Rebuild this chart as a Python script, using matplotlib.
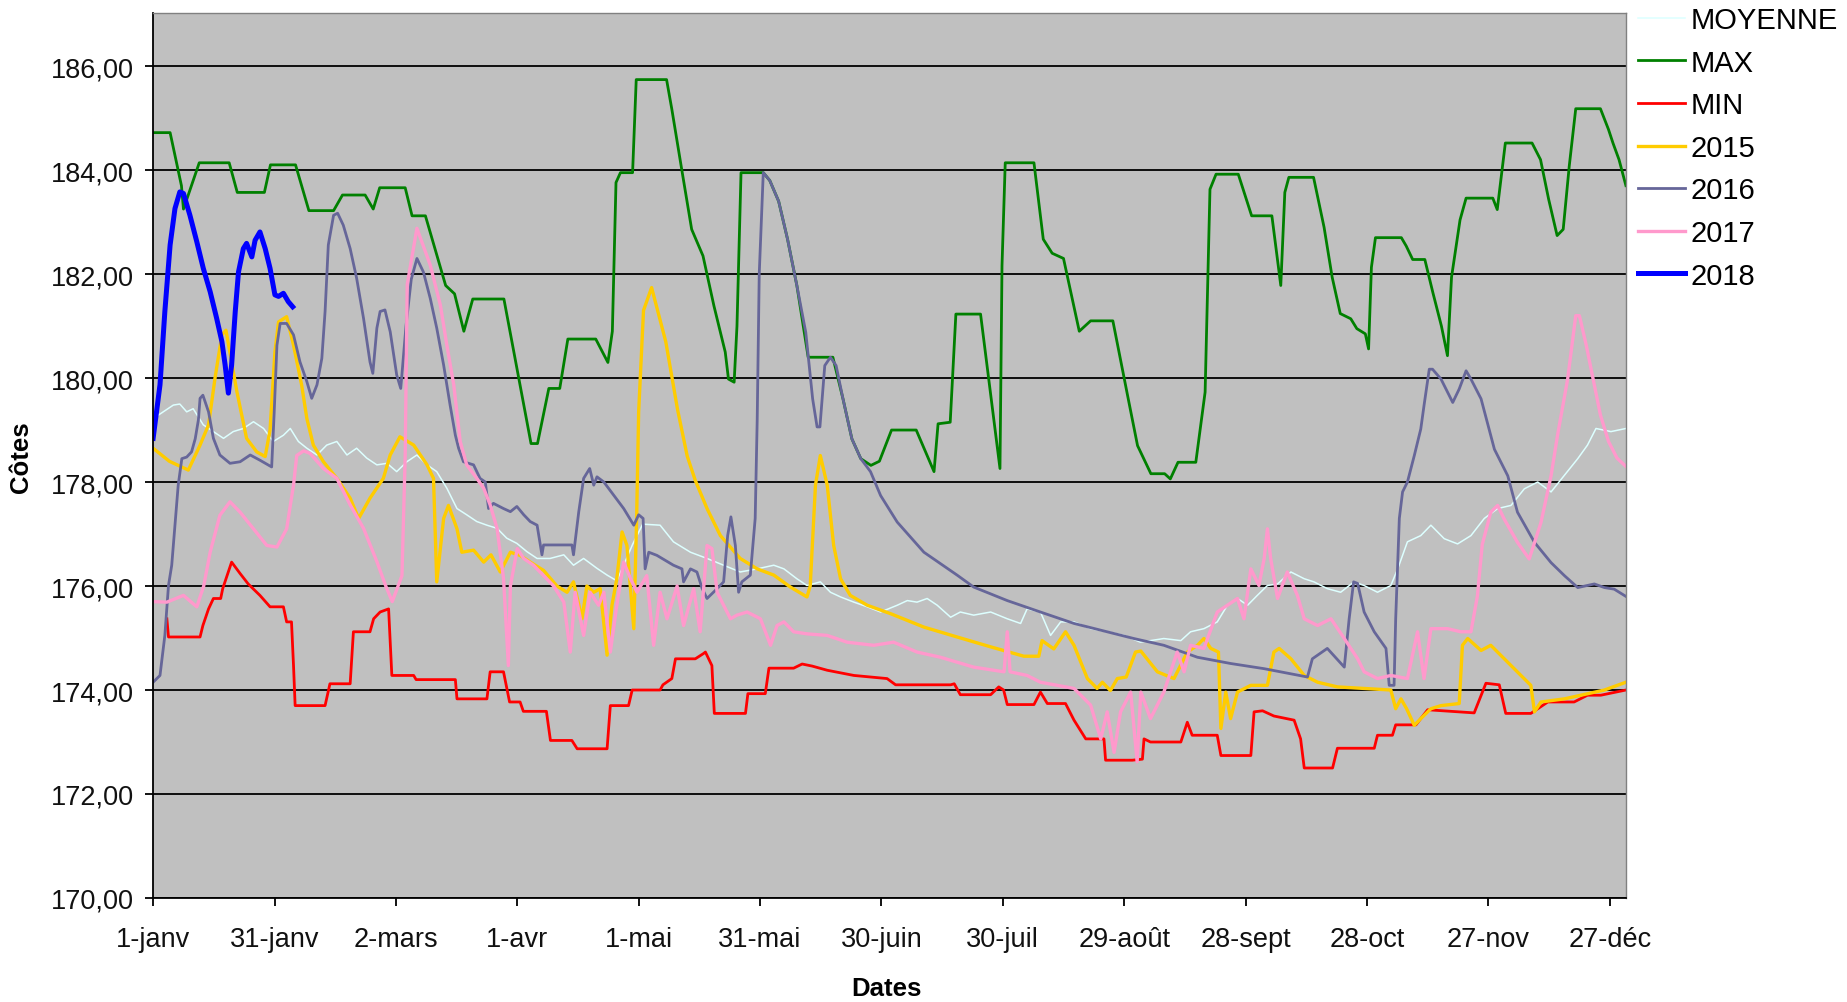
"""Côtes journalières 2015-2018 avec moyenne, max et min (style Excel)"""

import matplotlib
matplotlib.use("Agg")
import matplotlib.pyplot as plt
from matplotlib.ticker import FuncFormatter

plt.rcParams['font.family'] = ['Liberation Sans', 'DejaVu Sans']

# axis ticks: day of year (0 = 1-janv)
tick_days = [0, 30, 60, 90, 120, 150, 180, 210, 240, 270, 300, 330, 360]
tick_labels = ["1-janv", "31-janv", "2-mars", "1-avr", "1-mai", "31-mai", "30-juin",
               "30-juil", "29-août", "28-sept", "28-oct", "27-nov", "27-déc"]
y_ticks = [170, 172, 174, 176, 178, 180, 182, 184, 186]

# series: (day, côte)
moyenne_pts = [
    (0, 179.22), (2.5, 179.35), (5, 179.48), (6.6, 179.5), (8.3, 179.35), (9.9, 179.41),
    (12.4, 179.1), (14.9, 178.97), (17.4, 178.84), (19.8, 178.97), (22.3, 179.03), (24.8, 179.16),
    (27.3, 179.03), (29.7, 178.78), (32.2, 178.9), (33.9, 179.03), (35.9, 178.78), (38, 178.65),
    (40.5, 178.52), (42.9, 178.71), (45.4, 178.78), (47.9, 178.52), (50.3, 178.65), (52.8, 178.46),
    (55.3, 178.33), (57.8, 178.36), (60.2, 178.2), (62.7, 178.39), (65.2, 178.52), (67.7, 178.33),
    (70.1, 178.2), (72.6, 177.88), (75.1, 177.49), (77.5, 177.37), (80, 177.24), (82.5, 177.17),
    (85, 177.11), (87.4, 176.92), (89.9, 176.82), (92.4, 176.66), (94.9, 176.53), (98.1, 176.53),
    (101.5, 176.6), (103.9, 176.4), (106.4, 176.53), (109.7, 176.34), (112.2, 176.21), (114.6, 176.1),
    (116.3, 176.4), (118.5, 176.8), (121, 177.19), (125.3, 177.17), (128.6, 176.85), (132.8, 176.65),
    (136.9, 176.53), (141, 176.4), (145.1, 176.27), (149.3, 176.33), (153.4, 176.4), (155.9, 176.33),
    (159.1, 176.14), (161.6, 176.01), (164.9, 176.08), (167.4, 175.88), (169.9, 175.79), (173.2, 175.69),
    (176.5, 175.6), (179.8, 175.5), (183.9, 175.63), (186.4, 175.72), (188.8, 175.69), (191.3, 175.76),
    (193.8, 175.63), (197.1, 175.4), (199.5, 175.5), (202.8, 175.44), (207, 175.5), (211.1, 175.37),
    (214.4, 175.28), (216, 175.56), (219.3, 175.5), (221.8, 175.05), (224.3, 175.31), (227.6, 175.31),
    (231.7, 175.18), (235.8, 175.12), (240, 175.05), (244, 174.92), (249.8, 174.99), (254, 174.95),
    (256.4, 175.12), (259.7, 175.18), (263, 175.31), (265.5, 175.63), (268, 175.76), (270.5, 175.63),
    (272.9, 175.82), (275.4, 176.01), (277.9, 176.04), (281.2, 176.27), (284.5, 176.14), (286.9, 176.08),
    (290.2, 175.95), (293.5, 175.88), (296.8, 176.08), (299.3, 176.01), (302.6, 175.88), (305.9, 176.01),
    (307.6, 176.33), (310, 176.85), (313.3, 176.97), (315.8, 177.17), (319.1, 176.91), (322.4, 176.81),
    (325.7, 176.97), (329, 177.3), (332.3, 177.49), (335.6, 177.55), (338.9, 177.87), (342.2, 178.0),
    (345.5, 177.81), (348.8, 178.13), (352.1, 178.45), (354.5, 178.71), (356.6, 179.03), (360.3, 178.97),
    (364, 179.03),
]

max_pts = [
    (0, 184.72), (4.2, 184.72), (7, 183.7), (7.5, 183.25), (11.4, 184.14), (18.8, 184.14),
    (20.8, 183.57), (27.5, 183.57), (29, 184.1), (35.2, 184.1), (38.5, 183.22), (44.6, 183.22),
    (46.8, 183.52), (52.4, 183.52), (54.4, 183.25), (56, 183.66), (62.3, 183.66), (64, 183.12),
    (67.3, 183.12), (72.3, 181.78), (74.5, 181.62), (76.8, 180.9), (79, 181.52), (86.7, 181.52),
    (93.4, 178.74), (95, 178.74), (97.8, 179.8), (100.5, 179.8), (102.5, 180.75), (109.4, 180.75),
    (112.4, 180.3), (113.5, 180.9), (114.4, 183.76), (115.5, 183.95), (118.5, 183.95), (119.4, 185.74),
    (126.9, 185.74), (128.2, 185.17), (130.5, 184.08), (133.1, 182.86), (135.9, 182.35), (138.6, 181.39),
    (141.4, 180.5), (142.2, 179.98), (143.6, 179.92), (144.3, 181.0), (145.3, 183.95), (150.8, 183.95),
    (152.4, 183.8), (154.6, 183.4), (156.8, 182.67), (159.1, 181.78), (161.9, 180.4), (168, 180.4),
    (170.5, 179.6), (172.7, 178.83), (174.9, 178.45), (177.4, 178.32), (179.5, 178.4), (182.5, 179.0),
    (188.6, 179.0), (193, 178.2), (194, 179.12), (197, 179.15), (198.4, 181.23), (204.5, 181.23),
    (209.3, 178.26), (209.8, 182.16), (210.6, 184.14), (217.7, 184.14), (220, 182.67), (222.2, 182.4),
    (225, 182.3), (228.9, 180.9), (231.7, 181.1), (237.2, 181.1), (241, 179.6), (243.3, 178.7),
    (246.6, 178.16), (250, 178.16), (251.4, 178.06), (253.3, 178.38), (257.7, 178.38), (260, 179.73),
    (261.2, 183.63), (262.7, 183.92), (268.2, 183.92), (271.5, 183.12), (276.5, 183.12), (278.7, 181.78),
    (279.7, 183.57), (280.7, 183.86), (286.8, 183.86), (289.4, 182.9), (291.4, 181.94), (293.4, 181.24),
    (296, 181.14), (297.5, 180.95), (299.6, 180.85), (300.4, 180.56), (301.1, 182.13), (302.1, 182.7),
    (308.5, 182.7), (309.7, 182.54), (311.3, 182.28), (314.3, 182.28), (316.3, 181.64), (318.4, 181.0),
    (319.9, 180.43), (320.9, 181.94), (323, 183.04), (324.5, 183.46), (331.1, 183.46), (332.2, 183.24),
    (334.2, 184.52), (340.8, 184.52), (342.9, 184.2), (344.9, 183.44), (347, 182.74), (348.5, 182.86),
    (350, 184.08), (351.6, 185.18), (357.7, 185.18), (359.7, 184.78), (360.8, 184.52), (362.3, 184.2),
    (364, 183.7),
]

min_pts = [
    (3.4, 175.37), (3.8, 175.02), (11.6, 175.02), (12.3, 175.24), (13.7, 175.56), (14.9, 175.76),
    (16.7, 175.76), (17.2, 175.95), (19.4, 176.46), (21.5, 176.24), (23.5, 176.04), (26.4, 175.82),
    (28.9, 175.6), (32.2, 175.6), (33, 175.31), (34.2, 175.31), (34.7, 174.47), (35.1, 173.7),
    (42.5, 173.7), (43.7, 174.12), (48.7, 174.12), (49.5, 175.12), (53.6, 175.12), (54.5, 175.37),
    (56.1, 175.5), (58.2, 175.56), (59, 174.28), (64.4, 174.28), (65, 174.2), (74.7, 174.2),
    (75.1, 173.83), (82.5, 173.83), (83.3, 174.35), (86.6, 174.35), (88.1, 173.77), (90.7, 173.77),
    (91.5, 173.59), (97.2, 173.59), (98.2, 173.03), (103.5, 173.03), (104.8, 172.87), (112.2, 172.87),
    (113, 173.7), (117.5, 173.7), (118.4, 174.0), (125.3, 174.0), (126, 174.1), (128.2, 174.22),
    (129.1, 174.6), (134, 174.6), (136, 174.7), (136.5, 174.73), (138.1, 174.47), (138.7, 173.55),
    (146.4, 173.55), (147, 173.93), (151.3, 173.93), (152.2, 174.42), (158.3, 174.42), (160.4, 174.5),
    (162.9, 174.46), (166.6, 174.38), (173.2, 174.28), (181.4, 174.22), (183.5, 174.1), (197.1, 174.1),
    (198, 174.12), (199.5, 173.91), (207, 173.91), (209, 174.06), (210.2, 174.0), (211.1, 173.72),
    (217.7, 173.72), (219.3, 173.96), (221, 173.74), (225.5, 173.74), (227.6, 173.42), (230.5, 173.06),
    (235, 173.06), (235.4, 172.65), (242, 172.65), (244.5, 172.67), (244.9, 173.06), (246.5, 173.0),
    (254, 173.0), (255.6, 173.38), (256.8, 173.13), (263, 173.13), (263.9, 172.74), (271.3, 172.74),
    (272.1, 173.58), (274.2, 173.6), (277, 173.5), (282, 173.42), (283.6, 173.06), (284.5, 172.5),
    (291.5, 172.5), (292.7, 172.88), (301.8, 172.88), (302.6, 173.13), (306.3, 173.13), (307.1, 173.33),
    (312.1, 173.33), (315, 173.62), (326.5, 173.56), (329.4, 174.13), (332.7, 174.1), (334.3, 173.55),
    (340.5, 173.55), (344.7, 173.77), (351.2, 173.77), (354.5, 173.9), (357.8, 173.9), (364, 174.0),
]

y2015_pts = [
    (0, 178.65), (4, 178.4), (8.7, 178.23), (11.6, 178.71), (13.7, 179.1), (15.3, 180.0),
    (17, 180.83), (18, 180.92), (20.7, 179.74), (23.1, 178.84), (25.6, 178.58), (27.7, 178.49),
    (28.9, 179.0), (30.1, 180.5), (31, 181.08), (33, 181.18), (34.7, 180.63), (36.7, 179.87),
    (38, 179.22), (39.6, 178.71), (42.1, 178.39), (45.4, 178.07), (48.7, 177.69), (50.8, 177.3),
    (53.6, 177.69), (56.9, 178.07), (58.6, 178.52), (61, 178.87), (64.4, 178.71), (67.7, 178.33),
    (69.3, 178.07), (70.1, 176.08), (71.8, 177.3), (73, 177.55), (75.1, 177.1), (76.3, 176.65),
    (79.2, 176.69), (81.7, 176.46), (83.5, 176.6), (85.8, 176.27), (88.3, 176.65), (90.7, 176.59),
    (93.2, 176.46), (96.5, 176.3), (99.8, 176.0), (102.3, 175.88), (103.9, 176.08), (106, 175.37),
    (107.2, 176.0), (108.9, 175.88), (110.5, 175.95), (112.2, 174.67), (113.4, 175.63), (114.6, 176.14),
    (115.9, 177.04), (117.1, 176.78), (118.8, 175.18), (119.5, 177.3), (120, 179.35), (121.2, 181.3),
    (123.2, 181.74), (126.7, 180.7), (129.6, 179.4), (132, 178.5), (134, 178.03), (136.9, 177.49),
    (140.2, 176.97), (145.1, 176.53), (149.3, 176.33), (153.4, 176.21), (157.5, 175.98), (161.6, 175.79),
    (162.4, 176.0), (163.7, 177.94), (164.9, 178.51), (166.6, 177.94), (168.2, 176.78), (169.9, 176.14),
    (172.3, 175.82), (176.5, 175.63), (182.2, 175.47), (190.5, 175.21), (198.7, 175.02), (207, 174.83),
    (215.2, 174.65), (218.9, 174.65), (219.7, 174.95), (222.6, 174.79), (225.5, 175.12), (227.6, 174.86),
    (230.9, 174.22), (233.3, 174.03), (234.6, 174.15), (236.6, 173.99), (238.3, 174.22), (240.5, 174.25),
    (242.8, 174.73), (244.1, 174.75), (248.2, 174.35), (252.3, 174.22), (255.6, 174.73), (258.1, 174.86),
    (259.7, 174.99), (261.4, 174.8), (263.3, 174.73), (263.9, 173.26), (265.1, 173.96), (266.3, 173.45),
    (268, 173.96), (271.3, 174.09), (275.4, 174.09), (277, 174.73), (278.3, 174.8), (281.2, 174.6),
    (284.5, 174.28), (287.8, 174.15), (292.7, 174.06), (299.3, 174.03), (305.9, 174.0), (307.1, 173.64),
    (308.4, 173.83), (309.8, 173.64), (311.7, 173.32), (313.3, 173.45), (315.8, 173.64), (318.3, 173.7),
    (322.8, 173.74), (323.6, 174.86), (324.9, 174.99), (328.2, 174.76), (330.6, 174.86), (335.6, 174.47),
    (340.5, 174.09), (341.4, 173.58), (343, 173.77), (348.8, 173.83), (352.9, 173.9), (358.7, 174.0),
    (364, 174.15),
]

y2016_pts = [
    (0, 174.15), (1.7, 174.28), (2.9, 175.05), (3.8, 176.01), (4.6, 176.4), (5.4, 177.17),
    (6.2, 177.94), (7.1, 178.45), (8.3, 178.48), (9.5, 178.58), (10.4, 178.83), (11.2, 179.2),
    (11.6, 179.61), (12.3, 179.67), (13.7, 179.35), (14.9, 178.84), (16.5, 178.52), (19, 178.36),
    (21.5, 178.39), (24, 178.52), (26.4, 178.42), (29.3, 178.29), (29.9, 179.3), (30.6, 180.63),
    (31.4, 181.05), (33, 181.05), (34.7, 180.83), (36.3, 180.31), (38, 179.93), (39.2, 179.61),
    (40.5, 179.87), (41.7, 180.38), (42.5, 181.28), (43.3, 182.56), (44.6, 183.13), (45.6, 183.17),
    (47, 182.94), (48.7, 182.49), (50.3, 181.92), (52, 181.15), (53.6, 180.31), (54.3, 180.09),
    (55.3, 180.96), (56.1, 181.28), (57.3, 181.31), (58.6, 180.89), (60.2, 180.06), (61.2, 179.8),
    (62.5, 181.0), (63.8, 181.9), (65.2, 182.3), (66.8, 182.04), (68.5, 181.53), (70.1, 180.96),
    (71.8, 180.25), (73.4, 179.48), (74.7, 178.9), (75.5, 178.65), (76.7, 178.39), (79.2, 178.33),
    (80.8, 178.07), (82.1, 178.0), (82.9, 177.49), (84.1, 177.59), (86.6, 177.49), (88.3, 177.43),
    (89.9, 177.53), (91.6, 177.37), (93.2, 177.24), (94.9, 177.17), (96.1, 176.6), (96.5, 176.79),
    (103.5, 176.79), (103.9, 176.6), (105.2, 177.43), (106.4, 178.07), (107.9, 178.26), (108.9, 177.94),
    (109.7, 178.1), (111.4, 178.0), (113.8, 177.75), (116.3, 177.49), (118.8, 177.17), (120, 177.37),
    (121.1, 177.3), (121.6, 176.33), (122.5, 176.65), (124.5, 176.59), (128.6, 176.4), (130.7, 176.33),
    (131.1, 176.08), (132.8, 176.33), (134.4, 176.27), (135.7, 175.95), (136.9, 175.76), (139.4, 175.95),
    (141, 176.08), (142, 176.97), (142.8, 177.33), (143.9, 176.78), (144.7, 175.88), (145.5, 176.08),
    (147.6, 176.21), (148.8, 177.3), (149.3, 179.2), (149.8, 182.0), (150.8, 183.95), (152.4, 183.8),
    (154.6, 183.4), (156.8, 182.67), (159.1, 181.78), (161.3, 180.88), (163, 179.6), (164.1, 179.06),
    (164.8, 179.06), (166, 180.24), (167.4, 180.4), (168.8, 180.24), (170.5, 179.6), (172.7, 178.83),
    (174.9, 178.45), (177.3, 178.2), (179.8, 177.74), (183.9, 177.23), (190.5, 176.65), (198.7, 176.21),
    (202.8, 175.98), (211.1, 175.72), (219.3, 175.5), (227.6, 175.28), (235.8, 175.12), (242.4, 174.99),
    (249.8, 174.86), (258.1, 174.63), (266.3, 174.51), (274.6, 174.41), (285.3, 174.25), (286.5, 174.6),
    (290.2, 174.8), (294.4, 174.44), (295.6, 175.37), (296.7, 176.08), (297.7, 176.05), (299.3, 175.5),
    (301.8, 175.12), (304.7, 174.8), (305.5, 174.09), (306.7, 174.09), (307.1, 175.37), (308, 177.3),
    (308.8, 177.81), (310, 178.0), (311.7, 178.51), (313.3, 179.02), (314.1, 179.47), (315.4, 180.17),
    (316.2, 180.17), (318.3, 179.98), (321.2, 179.53), (322.8, 179.79), (324.5, 180.14), (325.7, 179.98),
    (328.2, 179.6), (331.5, 178.63), (334.8, 178.12), (337.2, 177.42), (341.4, 176.84), (345.5, 176.45),
    (348.8, 176.2), (352.1, 175.97), (356.2, 176.04), (358.7, 175.97), (361.1, 175.94), (364, 175.8),
]

y2017_pts = [
    (0, 175.7), (3.4, 175.69), (7.5, 175.82), (10.8, 175.6), (12.5, 176.0), (14.1, 176.65),
    (16.5, 177.36), (19, 177.62), (21.5, 177.42), (24.8, 177.1), (28.1, 176.78), (30.6, 176.75),
    (33, 177.1), (34.7, 177.94), (35.5, 178.51), (37.2, 178.6), (38.8, 178.55), (42.1, 178.26),
    (45.4, 178.07), (48.7, 177.56), (52, 177.11), (55.3, 176.47), (57.5, 176.0), (59.1, 175.7),
    (61.5, 176.2), (62.3, 178.5), (62.8, 181.8), (65.2, 182.88), (68.5, 182.17), (71, 181.4),
    (72.6, 180.63), (74.3, 179.87), (75.9, 178.78), (77.5, 178.33), (80, 178.07), (81.7, 177.88),
    (83.3, 177.56), (85, 177.11), (86.6, 176.15), (87.8, 174.47), (88.3, 176.0), (90, 176.72),
    (91.6, 176.53), (94, 176.4), (96.5, 176.2), (99, 176.0), (101.5, 175.69), (103.1, 174.73),
    (104.3, 175.88), (106.4, 175.05), (108, 175.88), (110.1, 175.63), (111.4, 175.88), (113, 174.73),
    (114.6, 175.63), (116.3, 176.46), (118, 176.14), (119.6, 175.88), (122, 176.2), (123.7, 174.86),
    (125.3, 175.88), (127, 175.37), (129.5, 176.0), (131.1, 175.24), (133.6, 175.95), (135.2, 175.12),
    (136.9, 176.78), (138.1, 176.72), (139.4, 175.88), (141, 175.63), (142.7, 175.37), (144.3, 175.44),
    (146.8, 175.5), (150.1, 175.37), (152.6, 174.86), (154.2, 175.24), (155.9, 175.31), (158.3, 175.12),
    (161.6, 175.08), (166.6, 175.05), (171.5, 174.92), (178.1, 174.86), (183, 174.92), (188.8, 174.73),
    (194.6, 174.63), (202.8, 174.44), (210.3, 174.35), (211.1, 175.12), (211.8, 174.35), (216, 174.28),
    (219.3, 174.15), (223.5, 174.09), (227.6, 174.03), (231.7, 173.71), (234.2, 173.06), (235.8, 173.58),
    (237.5, 172.8), (239.1, 173.58), (241.6, 173.96), (243.2, 172.62), (244.1, 173.96), (246.5, 173.45),
    (249.8, 173.96), (253.1, 174.73), (254.8, 174.35), (256.4, 174.86), (259.7, 174.8), (263, 175.5),
    (265.5, 175.63), (268, 175.76), (269.6, 175.37), (271.3, 176.33), (273.3, 176.01), (274.6, 176.53),
    (275.4, 177.1), (276.2, 176.53), (277.9, 175.76), (280.3, 176.27), (282.8, 175.82), (284.5, 175.37),
    (287.8, 175.24), (291.1, 175.37), (294.4, 174.99), (297.7, 174.6), (299.3, 174.35), (302.6, 174.22),
    (305.9, 174.28), (310, 174.22), (312.5, 175.12), (314.1, 174.22), (315.8, 175.18), (319.9, 175.18),
    (323.2, 175.12), (325.7, 175.12), (327.3, 175.81), (328.5, 176.8), (330.6, 177.42), (332.3, 177.55),
    (333.9, 177.29), (337.2, 176.84), (340.1, 176.52), (343, 177.22), (345.5, 178.12), (347.1, 178.9),
    (349.6, 179.98), (351.6, 181.2), (352.5, 181.2), (354.2, 180.63), (355.7, 180.06), (357.7, 179.29),
    (359.7, 178.78), (361.8, 178.46), (364, 178.3),
]

y2018_pts = [
    (0, 178.84), (1.7, 179.87), (2.9, 181.28), (4.2, 182.56), (5.4, 183.26), (6.6, 183.58),
    (7.5, 183.55), (9.1, 183.13), (10.8, 182.62), (12.4, 182.11), (14.1, 181.66), (15.7, 181.15),
    (17, 180.7), (17.8, 180.25), (18.6, 179.71), (19.4, 180.25), (20.3, 181.28), (21.1, 182.04),
    (22.3, 182.49), (23.1, 182.59), (24.4, 182.33), (25.2, 182.65), (26.4, 182.81), (27.7, 182.49),
    (28.9, 182.11), (30.1, 181.6), (31, 181.57), (32.2, 181.63), (33.4, 181.47), (34.5, 181.37),
]

# (label, points, colour, linewidth) in Excel series order
series = [
    ("MOYENNE", moyenne_pts, "#DDFFFF", 1.1),
    ("MAX", max_pts, "#008000", 2.0),
    ("MIN", min_pts, "#FF0000", 2.0),
    ("2015", y2015_pts, "#FFCC00", 2.4),
    ("2016", y2016_pts, "#666699", 2.0),
    ("2017", y2017_pts, "#FF99CC", 2.4),
    ("2018", y2018_pts, "#0000FF", 3.6),
]


def main():
    fig = plt.figure(figsize=(18.47, 10.03), dpi=100)
    ax = fig.add_axes([0.0829, 0.1037, 0.7974, 0.8823])
    ax.set_facecolor("#C0C0C0")

    for label, pts, color, lw in series:
        days = [p[0] for p in pts]
        vals = [p[1] for p in pts]
        ax.plot(days, vals, color=color, lw=lw, label=label, solid_joinstyle="round")

    ax.set_xlim(0, 364)
    ax.set_ylim(170, 187.02)
    ax.set_xticks(tick_days)
    ax.set_xticklabels(tick_labels)
    ax.set_yticks(y_ticks)
    ax.yaxis.set_major_formatter(FuncFormatter(lambda v, p: f"{v:.2f}".replace(".", ",")))
    ax.grid(axis="y", color="black", lw=1.3)
    ax.set_axisbelow(True)

    ax.tick_params(axis="both", labelsize=19.5, length=6, width=1.3, color="black", labelcolor="#111111")
    ax.tick_params(axis="x", pad=14)
    ax.tick_params(axis="y", pad=8)

    for side in ["left", "bottom"]:
        ax.spines[side].set_color("black")
        ax.spines[side].set_linewidth(1.3)
    for side in ["top", "right"]:
        ax.spines[side].set_color("#808080")
        ax.spines[side].set_linewidth(1.0)

    fig.text(0.0114, 0.5444, "Côtes", rotation=90, ha="center", va="center",
             fontsize=18.5, fontweight="bold")
    fig.text(0.480, 0.014, "Dates", ha="center", va="center",
             fontsize=18.5, fontweight="bold")

    fig.legend(loc="upper left", bbox_to_anchor=(0.887, 0.993), frameon=False,
               fontsize=21, handlelength=1.6, handletextpad=0.2, labelspacing=0.5,
               borderpad=0, borderaxespad=0)

    fig.savefig("out.png", dpi=100)


if __name__ == "__main__":
    main()
